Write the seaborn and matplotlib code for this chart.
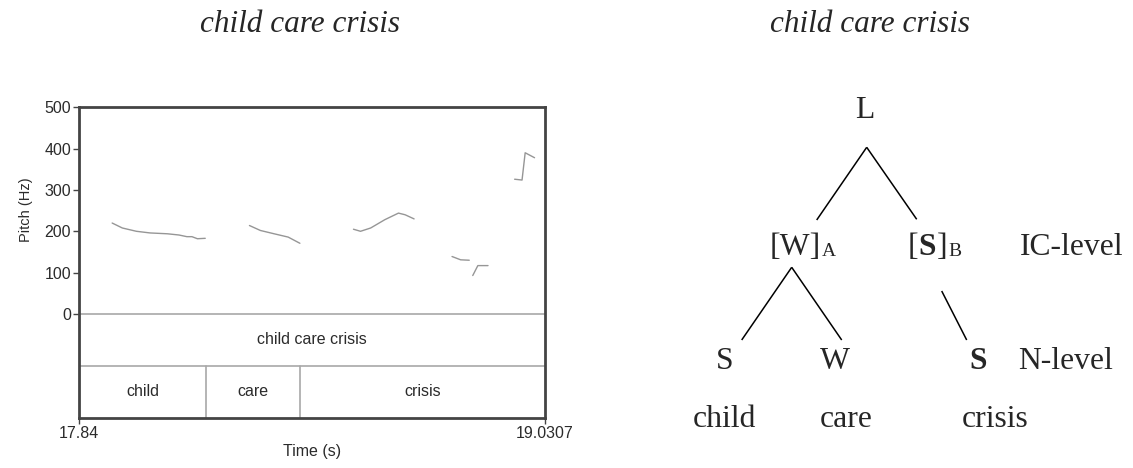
"""
Pitch track (Praat style) of "child care crisis" next to its prosodic tree.
"""

import pandas as pd
import matplotlib
matplotlib.use("Agg")
import matplotlib.pyplot as plt
import seaborn as sns

# ---------------------------------------------------------------------------
# Data
# ---------------------------------------------------------------------------
T_START = 17.84
T_END = 19.0307

seg_child_t = [17.924, 17.950, 17.986, 18.021, 18.065, 18.095, 18.115, 18.128, 18.142, 18.162]
seg_child_f0 = [220, 208, 200, 196, 194, 191, 187, 187, 182, 183]
seg_care_t = [18.275, 18.303, 18.338, 18.374, 18.404]
seg_care_f0 = [214, 202, 194, 186, 171]
seg_cri_t = [18.541, 18.559, 18.585, 18.621, 18.656, 18.673, 18.696]
seg_cri_f0 = [205, 200, 208, 228, 244, 240, 230]
seg_sis1_t = [18.793, 18.815, 18.837]
seg_sis1_f0 = [139, 131, 130]
seg_sis2_t = [18.846, 18.859, 18.885]
seg_sis2_f0 = [93, 117, 117]
seg_end_t = [18.953, 18.972, 18.980, 19.004]
seg_end_f0 = [326, 324, 390, 378]

segments = [
    (seg_child_t, seg_child_f0),
    (seg_care_t, seg_care_f0),
    (seg_cri_t, seg_cri_f0),
    (seg_sis1_t, seg_sis1_f0),
    (seg_sis2_t, seg_sis2_f0),
    (seg_end_t, seg_end_f0),
]

phrase_label = "child care crisis"
word_labels = ["child", "care", "crisis"]
word_bounds = [T_START, 18.163, 18.404, T_END]

pitch_ticks = [0, 100, 200, 300, 400, 500]

# tree (labels only; positions are layout below)
title_text = "child care crisis"
ic_level = "IC-level"
n_level = "N-level"
n_nodes = ["S", "W", "S"]
n_bold = [False, False, True]

# ---------------------------------------------------------------------------
# Style
# ---------------------------------------------------------------------------
sns.set_style("white")
plt.rcParams["font.family"] = ["Liberation Sans", "DejaVu Sans"]

W, H = 1133, 468
fig = plt.figure(figsize=(W / 100, H / 100), dpi=100)

SERIF = "Liberation Serif"
TREE_FS = 22.8
PRAAT_FS = 11.5
DARK = "#2b2b2b"

# ---------------------------------------------------------------------------
# Praat panel
# ---------------------------------------------------------------------------
ax = fig.add_axes([79.3 / W, 1 - 417.7 / H, (545 - 79.3) / W, (417.7 - 107.3) / H])

rows = []
for i, (ts, fs) in enumerate(segments):
    for t, f in zip(ts, fs):
        rows.append({"seg": i, "time": t, "pitch": f})
df = pd.DataFrame(rows)

sns.lineplot(data=df, x="time", y="pitch", units="seg", estimator=None,
             color="#969696", linewidth=1.0, ax=ax)

TIER1 = -126
BOTTOM = -251
ax.set_xlim(T_START, T_END)
ax.set_ylim(BOTTOM, 500)

# tier grid
ax.axhline(0, color="#a8a8a8", linewidth=1.2)
ax.axhline(TIER1, color="#a8a8a8", linewidth=1.2)
for b in word_bounds[1:-1]:
    ax.plot([b, b], [BOTTOM, TIER1], color="#a8a8a8", linewidth=1.2)

ax.text((T_START + T_END) / 2, TIER1 / 2, phrase_label, ha="center", va="center",
        fontsize=PRAAT_FS, color=DARK)
for lab, a, b in zip(word_labels, word_bounds[:-1], word_bounds[1:]):
    ax.text((a + b) / 2, (TIER1 + BOTTOM) / 2, lab, ha="center", va="center",
            fontsize=PRAAT_FS, color=DARK)

ax.set_yticks(pitch_ticks)
ax.set_yticklabels([str(v) for v in pitch_ticks])
ax.set_xticks([T_START, T_END])
ax.set_xticklabels(["17.84", "19.0307"])
ax.tick_params(axis="both", direction="out", length=4, width=1, color="#444444",
               labelsize=PRAAT_FS, labelcolor=DARK, pad=2, left=True, bottom=True)
for sp in ax.spines.values():
    sp.set_visible(True)
    sp.set_color("#444444")
    sp.set_linewidth(2)

ax.set_ylabel("Pitch (Hz)", fontsize=PRAAT_FS - 1, color=DARK)
ax.yaxis.set_label_coords(-0.099, 0.669)
ax.set_xlabel("Time (s)", fontsize=PRAAT_FS, color=DARK, va="center")
ax.xaxis.set_label_coords(0.5, -0.11)

# ---------------------------------------------------------------------------
# Tree panel + titles (pixel coordinates over the whole figure)
# ---------------------------------------------------------------------------
ov = fig.add_axes([0, 0, 1, 1])
ov.set_xlim(0, W)
ov.set_ylim(H, 0)
ov.axis("off")

for cx in (300, 870):
    ov.text(cx, 25, title_text, ha="center", va="center", fontsize=22.5,
            family=SERIF, style="italic")

ov.text(865, 118.3, "L", ha="center", va="baseline", fontsize=TREE_FS, family=SERIF)

ov.text(770, 255, "[W]", ha="left", va="baseline", fontsize=TREE_FS, family=SERIF)
ov.text(822, 256, "A", ha="left", va="baseline", fontsize=14, family=SERIF)
ov.text(908, 255, "[", ha="left", va="baseline", fontsize=TREE_FS, family=SERIF)
ov.text(918.6, 255, "S", ha="left", va="baseline", fontsize=TREE_FS, family=SERIF,
        weight="bold")
ov.text(936.5, 255, "]", ha="left", va="baseline", fontsize=TREE_FS, family=SERIF)
ov.text(948, 256, "B", ha="left", va="baseline", fontsize=14, family=SERIF)
ov.text(1020, 255, ic_level, ha="left", va="baseline", fontsize=TREE_FS, family=SERIF)

for lab, bold, cx in zip(n_nodes, n_bold, (725, 835, 977.7)):
    ov.text(cx, 369.3, lab, ha="center", va="baseline", fontsize=TREE_FS, family=SERIF,
            weight="bold" if bold else "normal")
ov.text(1018, 369.3, n_level, ha="left", va="baseline", fontsize=TREE_FS, family=SERIF)

for lab, cx in zip(word_labels, (724, 846, 995)):
    ov.text(cx, 427.3, lab, ha="center", va="baseline", fontsize=TREE_FS, family=SERIF)

edges = [
    ((866.7, 147.3), (816.7, 220)),
    ((866.7, 147.3), (916.7, 219.3)),
    ((791.7, 267.3), (741.7, 340)),
    ((791.7, 267.3), (841.7, 340)),
    ((941.7, 291), (966.7, 340)),
]
for (x0, y0), (x1, y1) in edges:
    ov.plot([x0, x1], [y0, y1], color="black", linewidth=1.1, solid_capstyle="butt")

fig.savefig("out.png", dpi=100)
plt.close(fig)
